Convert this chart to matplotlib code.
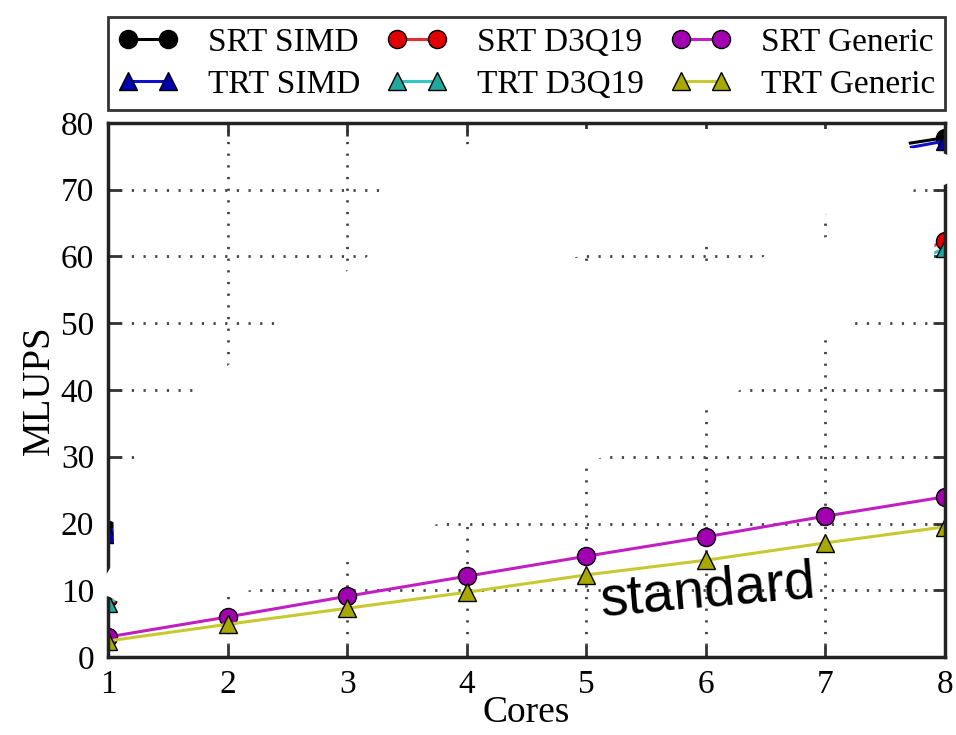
import matplotlib
matplotlib.use('Agg')
import matplotlib.pyplot as plt
from matplotlib.patches import Polygon

cores = [1, 2, 3, 4, 5, 6, 7, 8]

srt_simd = [19.0, 34.0, 46.0, 56.0, 64.0, 70.0, 75.0, 77.8]
trt_simd = [18.5, 33.0, 45.0, 55.0, 63.0, 69.0, 74.0, 77.3]
srt_d3q19 = [8.8, 17.0, 25.0, 33.0, 41.0, 48.0, 55.0, 62.3]
trt_d3q19 = [8.1, 16.0, 24.0, 32.0, 39.5, 47.0, 54.0, 61.2]
srt_generic = [3.0, 6.0, 9.1, 12.1, 15.1, 18.0, 21.1, 24.0]
trt_generic = [2.4, 4.9, 7.3, 9.7, 12.3, 14.5, 17.1, 19.5]

yticks = [0, 10, 20, 30, 40, 50, 60, 70, 80]

# white painted-over area of the reference image (image pixels)
mask_px = [(113, 500), (125, 470), (145, 452), (170, 420), (202, 388), (240, 355),
           (280, 321), (320, 290), (370, 255), (378, 222), (382, 188), (420, 165),
           (470, 152), (480, 129), (905, 129), (910, 148), (940, 152), (955, 158),
           (955, 180), (944, 185), (925, 186), (880, 200), (830, 213), (760, 233),
           (700, 243), (640, 248), (600, 253), (570, 258), (570, 262), (640, 262),
           (712, 268), (760, 258), (830, 236), (880, 215), (925, 196), (940, 196),
           (938, 205), (935, 232), (934, 258), (915, 290), (880, 310), (857, 318),
           (835, 335), (800, 352), (760, 378), (740, 390), (706, 407), (660, 430),
           (610, 453), (586, 465), (540, 488), (500, 508), (467, 520), (445, 521),
           (400, 538), (347, 562), (300, 577), (243, 592), (200, 596), (150, 600),
           (120, 603), (110, 597), (103, 595), (103, 580), (112, 565), (114, 545)]

W, H = 956, 735
plt.rcParams['font.family'] = 'Liberation Serif'
plt.rcParams['font.size'] = 24

fig = plt.figure(figsize=(W / 100, H / 100), dpi=100)
ax = fig.add_axes([108 / W, 1 - 657 / H, 837 / W, 534 / H])

series = [
    ('SRT SIMD', srt_simd, 'black', 'o', 'black'),
    ('TRT SIMD', trt_simd, '#1010c8', '^', '#0000b0'),
    ('SRT D3Q19', srt_d3q19, '#e03030', 'o', '#e00000'),
    ('TRT D3Q19', trt_d3q19, '#30c8c0', '^', '#20a8a0'),
    ('SRT Generic', srt_generic, '#c020c0', 'o', '#a000b0'),
    ('TRT Generic', trt_generic, '#c8c830', '^', '#a8a800'),
]
handles = []
for name, vals, col, mk, fc in series:
    h, = ax.plot(cores, vals, color=col, lw=2.2, marker=mk, markersize=13,
                 markerfacecolor=fc, markeredgecolor='black', markeredgewidth=1,
                 label=name)
    handles.append(h)

ax.set_xlim(1, 8)
ax.set_ylim(0, 80)
ax.set_xticks(cores)
ax.set_yticks(yticks)
ax.grid(True, color='#444444', linestyle=(0, (0.8, 3.4)), linewidth=2)
ax.tick_params(direction='in', length=9, width=2, top=True, right=True,
               labelsize=24, color='#333333')
ax.tick_params(axis='y', pad=10)
ax.tick_params(axis='x', pad=9)
for s in ax.spines.values():
    s.set_linewidth(2.5)
    s.set_color('#222222')
ax.set_xlabel('Cores', fontsize=27, labelpad=-3)
ax.set_ylabel('MLUPS', fontsize=28, labelpad=2)

leg = fig.legend(handles, [h.get_label() for h in handles], loc='lower left',
                 bbox_to_anchor=(108 / W, 1 - 110 / H, 837 / W, 98 / H),
                 mode='expand', ncol=3, borderaxespad=0, fancybox=False,
                 edgecolor='black', fontsize=24, handlelength=1.8, numpoints=2,
                 handletextpad=0.9, labelspacing=0.35, borderpad=0.3)
leg.get_frame().set_linewidth(2)

mask = Polygon([(x / W, 1 - y / H) for x, y in mask_px], closed=True,
               transform=fig.transFigure, facecolor='white', edgecolor='none',
               zorder=5)
fig.add_artist(mask)

fig.text(708 / W, 1 - 592 / H, 'standard', family='Liberation Sans', fontsize=40,
         rotation=5, ha='center', va='center', color='black', zorder=6)

fig.savefig('out.png', dpi=100)
